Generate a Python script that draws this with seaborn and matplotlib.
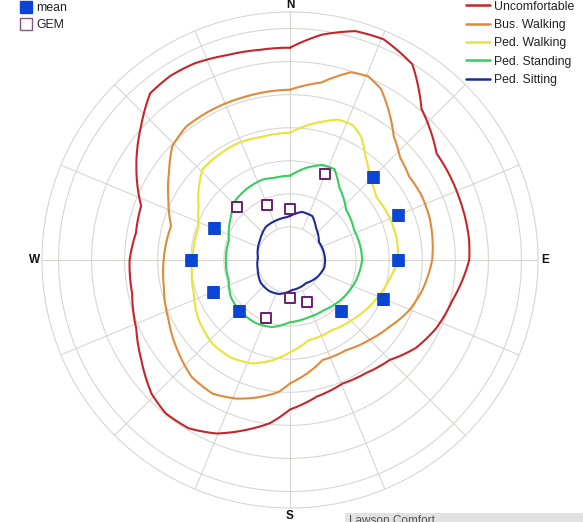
import numpy as np
import matplotlib
matplotlib.use("Agg")
import matplotlib.pyplot as plt
from matplotlib.lines import Line2D
from matplotlib.patches import Rectangle
import seaborn as sns

# Comfort-category contours: direction (deg, clockwise from N) and radius
UNCOMF_T = [0, 8, 16, 23, 32, 41, 54, 70, 83, 90, 104, 115, 125, 135, 146, 157, 169, 180,
            187, 195, 203, 211, 219, 226, 236, 246, 258, 270, 280, 290, 301, 312, 320, 327,
            334, 343, 352]
UNCOMF_R = [6.42, 6.88, 7.20, 7.25, 6.98, 6.06, 5.48, 5.45, 5.45, 5.42, 5.06, 4.88, 4.64, 4.27,
            4.12, 4.06, 4.21, 4.52, 4.97, 5.33, 5.70, 5.94, 5.97, 5.82, 5.42, 5.09, 4.88, 4.85,
            4.73, 4.79, 5.42, 6.06, 6.58, 6.64, 6.61, 6.48, 6.42]

BUSWALK_T = [0, 10, 18, 23, 28, 33, 40, 47, 55, 64, 73, 81, 90, 103, 113, 124, 135, 148, 162,
             180, 185, 193, 201, 210, 220, 230, 244, 258, 270, 286, 296, 306, 314, 322, 332, 345]
BUSWALK_R = [5.15, 5.45, 5.97, 6.04, 5.86, 5.45, 4.88, 4.55, 4.40, 4.43, 4.41, 4.36, 4.30, 4.10,
             3.91, 3.62, 3.41, 3.21, 3.18, 3.73, 4.01, 4.26, 4.49, 4.67, 4.62, 4.39, 4.09, 3.90,
             3.82, 3.74, 4.09, 4.52, 4.95, 5.11, 5.12, 5.12]

PEDWALK_T = [0, 8, 19, 25, 30, 36, 44, 54, 66, 78, 90, 101, 118, 134, 149, 167, 180, 190, 200,
             211, 223, 237, 251, 270, 290, 300, 309, 316, 324, 336, 347]
PEDWALK_R = [3.85, 4.13, 4.49, 4.50, 4.30, 3.88, 3.47, 3.23, 3.27, 3.29, 3.27, 3.06, 2.81, 2.61,
             2.47, 2.49, 2.79, 3.08, 3.33, 3.45, 3.45, 3.30, 3.08, 2.94, 2.94, 3.19, 3.54, 3.81,
             3.84, 3.87, 3.82]

PEDSTAND_T = [0, 10, 19, 26, 34, 48, 65, 82, 90, 107, 124, 146, 162, 180, 195, 208, 226, 238,
              252, 270, 288, 306, 318, 329, 341, 349]
PEDSTAND_R = [2.55, 2.83, 3.04, 3.06, 2.66, 2.28, 2.14, 2.17, 2.18, 2.09, 1.98, 1.83, 1.82, 1.88,
              2.10, 2.17, 2.16, 2.11, 1.95, 1.94, 1.94, 2.21, 2.45, 2.52, 2.57, 2.53]

PEDSIT_T = [0, 14, 27, 39, 58, 78, 90, 103, 122, 145, 176, 198, 214, 232, 253, 274, 304, 324,
            342, 356]
PEDSIT_R = [1.33, 1.50, 1.49, 1.25, 1.03, 1.05, 1.06, 1.06, 0.97, 0.85, 0.91, 1.08, 1.13, 1.12,
            1.02, 0.97, 1.09, 1.24, 1.27, 1.30]

# Point measurements
MEAN_T = [45, 67.5, 90, 112.5, 135, 225, 247.5, 270, 292.5]
MEAN_R = [3.54, 3.52, 3.27, 3.05, 2.19, 2.16, 2.53, 3.00, 2.50]
GEM_T = [22.5, 315, 337.5, 0, 180, 157.5, 202.5]
GEM_R = [2.80, 2.27, 1.81, 1.55, 1.15, 1.37, 1.91]

CURVE_LABELS = ["Uncomfortable", "Bus. Walking", "Ped. Walking", "Ped. Standing", "Ped. Sitting"]
CURVE_COLORS = ["#c4262c", "#e08a3a", "#e6e33c", "#36cf5c", "#1c2a9e"]
CARDINALS = ["N", "E", "S", "W"]

sns.set_style("white")
plt.rcParams["font.family"] = ["Liberation Sans", "DejaVu Sans"]

W, H = 583, 522
fig = plt.figure(figsize=(W / 100, H / 100), dpi=100)
R_PX = 248
CX, CY = 290, 260
ax = fig.add_axes([(CX - R_PX) / W, (H - CY - R_PX) / H, 2 * R_PX / W, 2 * R_PX / H],
                  projection="polar")
ax.set_theta_zero_location("N")
ax.set_theta_direction(-1)
ax.set_ylim(0, 7.5)

grid_c = "#d9d6d1"
ax.set_yticks(range(1, 8))
ax.set_yticklabels([])
ax.set_xticks([])
ax.yaxis.grid(True, color=grid_c, lw=0.8)
ax.xaxis.grid(False)
ax.spines["polar"].set_color(grid_c)
ax.spines["polar"].set_linewidth(0.8)

# Radial spokes every 22.5 degrees; cardinal axes run through the centre
for k in range(16):
    t = np.deg2rad(k * 22.5)
    r0 = 0 if k % 4 == 0 else 1
    ax.plot([t, t], [r0, 7.5], color=grid_c, lw=0.8, zorder=1)


def closed(t_deg, r):
    t = list(t_deg) + [t_deg[0] + 360]
    rr = list(r) + [r[0]]
    return np.deg2rad(t), np.array(rr)


curves = [(UNCOMF_T, UNCOMF_R), (BUSWALK_T, BUSWALK_R), (PEDWALK_T, PEDWALK_R),
          (PEDSTAND_T, PEDSTAND_R), (PEDSIT_T, PEDSIT_R)]
for (t, r), c in zip(curves, CURVE_COLORS):
    tt, rr = closed(t, r)
    sns.lineplot(x=tt, y=rr, ax=ax, sort=False, estimator=None, color=c, lw=1.5, zorder=3)
    # follow the polar grid between samples instead of straight chords
    ax.lines[-1].get_path()._interpolation_steps = 24

sns.scatterplot(x=np.deg2rad(MEAN_T), y=MEAN_R, ax=ax, marker="s", s=72, color="#0a45d6",
                edgecolor="#0a45d6", linewidth=0.5, zorder=5)
sns.scatterplot(x=np.deg2rad(GEM_T), y=GEM_R, ax=ax, marker="s", s=62, color="white",
                edgecolor="#6c2073", linewidth=1.4, zorder=5)
ax.set_xlabel("")
ax.set_ylabel("")

# Compass letters
card_pos = [(290, 5), (545, 260), (290, 516), (35, 260)]
for lab, (x, y) in zip(CARDINALS, card_pos):
    fig.text(x / W, 1 - y / H, lab, ha="center", va="center", fontsize=8.5,
             fontweight="bold", color="#111111")

# Contour legend
line_handles = [Line2D([], [], color=c, lw=1.8) for c in CURVE_COLORS]
fig.legend(line_handles, CURVE_LABELS, loc="upper left",
           bbox_to_anchor=(466 / W, 1 - 0.5 / H), frameon=False, fontsize=8.8,
           handlelength=2.0, handletextpad=0.3, labelspacing=0.52, borderpad=0,
           borderaxespad=0, labelcolor="#222222")

# Marker legend
pt_handles = [Line2D([], [], ls="none", marker="s", ms=8.5, mfc="#0a45d6", mec="#0a45d6"),
              Line2D([], [], ls="none", marker="s", ms=8.5, mfc="white", mec="#7a5a80",
                     mew=1.0)]
fig.legend(pt_handles, ["mean", "GEM"], loc="upper left",
           bbox_to_anchor=(20 / W, 1 - 2 / H), frameon=False, fontsize=8.8,
           handlelength=1.0, handletextpad=0.35, labelspacing=0.45, borderpad=0,
           borderaxespad=0, labelcolor="#222222")

# Panel caption strip at the bottom
fig.patches.append(Rectangle((345 / W, 0), 1 - 345 / W, 9 / H, transform=fig.transFigure,
                             facecolor="#e2e2e2", edgecolor="none", zorder=0))
fig.text(349 / W, 1 - 514.5 / H, "Lawson Comfort", ha="left", va="top", fontsize=8.5,
         color="#555555")

fig.savefig("out.png", dpi=100, facecolor="white")
